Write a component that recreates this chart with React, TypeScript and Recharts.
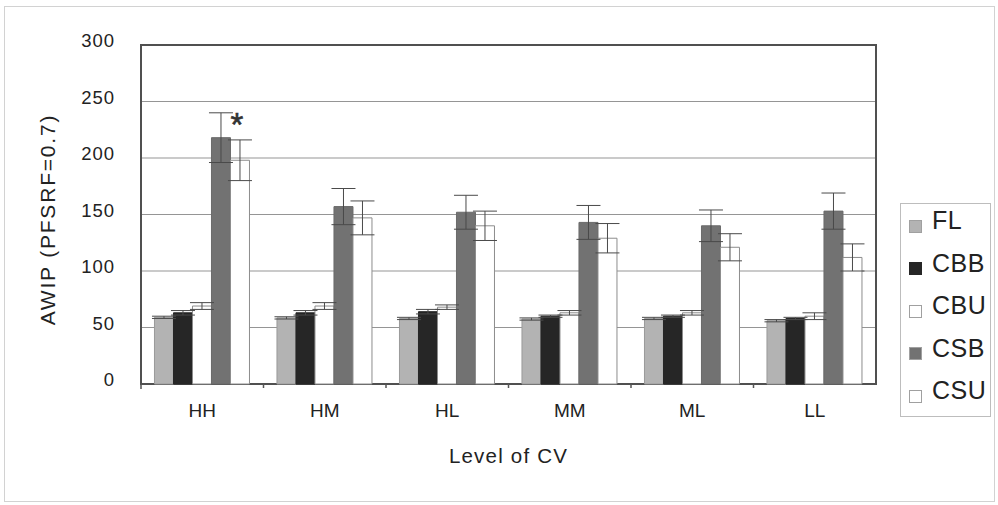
import React from 'react';
import {
  BarChart,
  Bar,
  XAxis,
  YAxis,
  CartesianGrid,
  ErrorBar,
  Legend,
  ReferenceArea,
  LabelList,
} from 'recharts';

// ---- data ----
const levels = ['HH', 'HM', 'HL', 'MM', 'ML', 'LL'];
const seriesNames = ['FL', 'CBB', 'CBU', 'CSB', 'CSU'];

const flValues = [59, 58.5, 58, 57.5, 58, 56];
const flErrors = [1, 1, 1, 1, 1, 1];
const cbbValues = [63, 63, 64, 60, 60, 58];
const cbbErrors = [2, 2, 2, 1, 1, 1];
const cbuValues = [69, 69, 68, 63, 63, 60];
const cbuErrors = [3, 3, 2, 2, 2, 3];
const csbValues = [218, 157, 152, 143, 140, 153];
const csbErrors = [22, 16, 15, 15, 14, 16];
const csuValues = [198, 147, 140, 129, 121, 112];
const csuErrors = [18, 15, 13, 13, 12, 12];

const yTicks = [0, 50, 100, 150, 200, 250, 300];
const yAxisTitle = 'AWIP (PFSRF=0.7)';
const xAxisTitle = 'Level of CV';
const annotations = [{ level: 'HH', series: 'CSU', text: '*' }];

const valuesBySeries: Record<string, number[]> = {
  FL: flValues,
  CBB: cbbValues,
  CBU: cbuValues,
  CSB: csbValues,
  CSU: csuValues,
};
const errorsBySeries: Record<string, number[]> = {
  FL: flErrors,
  CBB: cbbErrors,
  CBU: cbuErrors,
  CSB: csbErrors,
  CSU: csuErrors,
};

const data = levels.map((level, i) => {
  const row: Record<string, any> = { level };
  seriesNames.forEach((s) => {
    row[s] = valuesBySeries[s][i];
    row[s + '_err'] = errorsBySeries[s][i];
  });
  return row;
});

// ---- styles ----
const FONT = '"Liberation Sans", Arial, sans-serif';
const seriesStyle: Record<string, { fill: string; stroke: string }> = {
  FL: { fill: '#b3b3b3', stroke: '#9a9a9a' },
  CBB: { fill: '#262626', stroke: '#262626' },
  CBU: { fill: '#ffffff', stroke: '#8c8c8c' },
  CSB: { fill: '#727272', stroke: '#6a6a6a' },
  CSU: { fill: '#ffffff', stroke: '#8c8c8c' },
};

const YTick = (props: any) => {
  const { x, y, payload } = props;
  return (
    <text
      x={x}
      y={y}
      dy={2}
      textAnchor="end"
      fontSize={18.5}
      fontFamily={FONT}
      fill="#222"
      letterSpacing={1}
    >
      {payload.value}
    </text>
  );
};

const XTick = (props: any) => {
  const { x, y, payload, index, width, visibleTicksCount } = props;
  const half =
    typeof payload?.offset === 'number' && payload.offset > 0
      ? payload.offset
      : width / (visibleTicksCount || levels.length) / 2;
  const count = visibleTicksCount || levels.length;
  return (
    <g>
      {index === 0 && (
        <line x1={x - half} x2={x - half} y1={y} y2={y + 5} stroke="#555" strokeWidth={1.5} />
      )}
      {index < count - 1 && (
        <line x1={x + half} x2={x + half} y1={y} y2={y + 4} stroke="#555" strokeWidth={1.5} />
      )}
      <text x={x} y={y + 33} textAnchor="middle" fontSize={19} fontFamily={FONT} fill="#222">
        {payload.value}
      </text>
    </g>
  );
};

const YTitle = (props: any) => {
  const vb = props.viewBox || { x: 0, y: 45, width: 141, height: 339 };
  const cx = vb.x + 47;
  const cy = vb.y + vb.height / 2 + 5;
  return (
    <text
      x={cx}
      y={cy}
      transform={`rotate(-90, ${cx}, ${cy})`}
      textAnchor="middle"
      dominantBaseline="central"
      fontSize={21}
      fontFamily={FONT}
      fill="#222"
      letterSpacing={1.8}
    >
      {yAxisTitle}
    </text>
  );
};

const XTitle = (props: any) => {
  const vb = props.viewBox || { x: 141, y: 384, width: 735, height: 121 };
  return (
    <text
      x={vb.x + vb.width / 2}
      y={vb.y + 79}
      textAnchor="middle"
      fontSize={20.5}
      fontFamily={FONT}
      fill="#222"
      letterSpacing={1.2}
    >
      {xAxisTitle}
    </text>
  );
};

const LegendBox = () => (
  <div
    style={{
      position: 'relative',
      width: 91,
      height: 214,
      border: '1px solid #bdbdbd',
      boxSizing: 'border-box',
      background: '#fff',
      fontFamily: FONT,
    }}
  >
    {seriesNames.map((name, i) => {
      const st = seriesStyle[name];
      const textCenter = 16 + i * 42.5;
      return (
        <React.Fragment key={name}>
          <div
            style={{
              position: 'absolute',
              left: 8,
              top: textCenter + 6 - 6.5,
              width: 13,
              height: 13,
              background: st.fill,
              border: `1px solid ${st.stroke === '#262626' ? '#262626' : '#a0a0a0'}`,
              boxSizing: 'border-box',
            }}
          />
          <div
            style={{
              position: 'absolute',
              left: 31,
              top: textCenter - 14,
              height: 28,
              lineHeight: '28px',
              fontSize: 25,
              color: '#222',
              letterSpacing: 0.5,
              whiteSpace: 'nowrap',
            }}
          >
            {name}
          </div>
        </React.Fragment>
      );
    })}
  </div>
);

const makeAnnotation = (series: string) => (p: any) => {
  const row = data[p.index];
  const ann = annotations.find((a) => a.series === series && row && a.level === row.level);
  if (!ann) return null;
  return (
    <text
      x={p.x + p.width / 2 - 3}
      y={p.y - 24}
      textAnchor="middle"
      fontSize={33}
      fontFamily={FONT}
      fill="#333"
      stroke="#333"
      strokeWidth={0.6}
    >
      {ann.text}
    </text>
  );
};

export default function App() {
  return (
    <div
      style={{
        position: 'absolute',
        left: 0,
        top: 0,
        width: 998,
        height: 505,
        background: '#fff',
      }}
    >
      <div
        style={{
          position: 'absolute',
          left: 4,
          top: 6,
          width: 991,
          height: 496,
          border: '1px solid #d2d2d2',
          boxSizing: 'border-box',
        }}
      />
      <BarChart
        width={998}
        height={505}
        data={data}
        margin={{ top: 45, right: 122, bottom: 0, left: 0 }}
        barCategoryGap="11%"
        barGap={0}
        style={{ position: 'absolute', left: 0, top: 0 }}
      >
        <CartesianGrid vertical={false} stroke="#959595" strokeWidth={1} />
        <XAxis
          dataKey="level"
          height={121}
          interval={0}
          tickLine={false}
          axisLine={false}
          tickSize={0}
          tickMargin={0}
          tick={<XTick />}
          label={<XTitle />}
        />
        <YAxis
          domain={[0, 300]}
          ticks={yTicks}
          width={141}
          axisLine={false}
          tickLine={false}
          tickSize={0}
          tickMargin={26}
          tick={<YTick />}
          label={<YTitle />}
        />
        {seriesNames.map((name) => (
          <Bar
            key={name}
            dataKey={name}
            fill={seriesStyle[name].fill}
            stroke={seriesStyle[name].stroke}
            strokeWidth={1}
            isAnimationActive={false}
          >
            <ErrorBar
              dataKey={name + '_err'}
              width={12}
              stroke="#4a4a4a"
              strokeWidth={1}
              direction="y"
            />
            {annotations.some((a) => a.series === name) && (
              <LabelList dataKey={name} content={makeAnnotation(name)} />
            )}
          </Bar>
        ))}
        <ReferenceArea y1={0} y2={300} fill="none" stroke="#505050" strokeWidth={2} fillOpacity={0} />
        <Legend
          layout="vertical"
          align="center"
          verticalAlign="middle"
          wrapperStyle={{ left: 900, top: 203, width: 91, height: 214, right: 'auto', bottom: 'auto' }}
          content={() => <LegendBox />}
        />
      </BarChart>
    </div>
  );
}
